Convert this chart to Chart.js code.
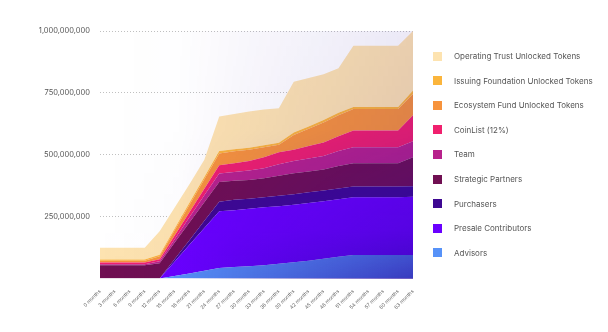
<!DOCTYPE html>
<html>
<head>
<meta charset="utf-8">
<script src="https://cdn.jsdelivr.net/npm/chart.js@4.4.1/dist/chart.umd.min.js"></script>
<style>
    html, body { margin: 0; padding: 0; background: #fff; }
    #wrap { position: relative; width: 608px; height: 332px; }
    #legend { position: absolute; left: 433px; top: 0; font-family: Inter, "Noto Sans", sans-serif; font-size: 8px; color: #555; }
    .item { position: absolute; left: 0; white-space: nowrap; height: 10px; line-height: 10px; }
    .box { position: absolute; left: 0; top: 0.5px; width: 9px; height: 9px; }
    .txt { position: absolute; left: 21px; top: 0; }
</style>
</head>
<body>
<div id="wrap">
    <canvas id="tokenChart" width="608" height="332"></canvas>
    <div id="legend"></div>
</div>
<script>
// x axis
const months = [0, 3, 6, 9, 12, 15, 18, 21, 24, 27, 30, 33, 36, 39, 42, 45, 48, 51, 54, 57, 60, 63]
const labels = months.map(m => `${m} months`)
// unlocked tokens per group, in millions (stacked bottom -> top)
const advisors = [0, 0, 0, 0, 0, 10, 20, 31, 42, 46, 50, 54, 60, 66, 72, 80, 88, 95, 95, 95, 95, 95]
const presale = [0, 0, 0, 0, 0, 58, 116, 173, 230, 230, 232, 234, 232, 232, 233, 232, 232, 233, 233, 233, 233, 235]
const purchasers = [0, 0, 0, 0, 0, 10, 19, 29, 38, 42, 40, 40, 42, 42, 43, 44, 44, 44, 44, 44, 44, 43]
const strategic = [54, 54, 54, 54, 62, 66, 71, 75, 80, 77, 76, 77, 81, 85, 84, 84, 91, 94, 94, 94, 94, 117]
const team = [4, 4, 4, 4, 8, 14, 21, 28, 34, 35, 38, 40, 47, 50, 53, 55, 60, 64, 64, 64, 64, 65]
const coinlist = [7, 7, 7, 7, 8, 15, 21, 27, 34, 36, 39, 45, 48, 45, 50, 55, 60, 68, 68, 68, 68, 105]
const ecosystem = [7, 7, 7, 7, 12, 21, 29, 38, 47, 48, 45, 40, 30, 60, 70, 80, 85, 87, 87, 87, 87, 85]
const issuing = [5, 5, 5, 5, 6, 7, 9, 9, 10, 8, 8, 8, 8, 10, 9, 10, 10, 8, 8, 8, 8, 15]
const operating = [47, 47, 47, 47, 95, 85, 75, 70, 140, 143, 147, 145, 140, 205, 196, 185, 180, 247, 247, 247, 247, 240]
// y ticks
const yTicks = [0, 250000000, 500000000, 750000000, 1000000000]

const groups = [
    [`Advisors`, advisors, `#5792f8`],
    [`Presale Contributors`, presale, `#6a00ff`],
    [`Purchasers`, purchasers, `#3e0892`],
    [`Strategic Partners`, strategic, `#700f52`],
    [`Team`, team, `#b8228c`],
    [`CoinList (12%)`, coinlist, `#f0206e`],
    [`Ecosystem Fund Unlocked Tokens`, ecosystem, `#f7933c`],
    [`Issuing Foundation Unlocked Tokens`, issuing, `#fbb53c`],
    [`Operating Trust Unlocked Tokens`, operating, `#fde3b0`]
]

const datasets = groups.map((g, i) => ({
    label: g[0],
    data: g[1].map(v => v * 1000000),
    backgroundColor: g[2],
    borderWidth: 0,
    pointRadius: 0,
    tension: 0,
    fill: i === 0 ? `origin` : `-1`
}))

// purple shading over the plot: stronger to the right and near the bottom
const shade = {
    id: `shade`,
    afterDatasetsDraw(chart) {
        const { ctx, chartArea: a } = chart
        const w = Math.round(a.right - a.left)
        const h = Math.round(a.bottom - a.top)
        const off = document.createElement(`canvas`)
        off.width = w
        off.height = h
        const o = off.getContext(`2d`)
        const hg = o.createLinearGradient(0, 0, w, 0)
        hg.addColorStop(0, `rgba(40,10,160,0)`)
        hg.addColorStop(0.25, `rgba(40,10,160,0.03)`)
        hg.addColorStop(0.5, `rgba(40,10,160,0.25)`)
        hg.addColorStop(0.75, `rgba(40,10,160,0.45)`)
        hg.addColorStop(1, `rgba(40,10,160,0.65)`)
        o.fillStyle = hg
        o.fillRect(0, 0, w, h)
        o.globalCompositeOperation = `destination-in`
        const vg = o.createLinearGradient(0, 0, 0, h)
        vg.addColorStop(0, `rgba(0,0,0,0.14)`)
        vg.addColorStop(0.4, `rgba(0,0,0,0.18)`)
        vg.addColorStop(0.8, `rgba(0,0,0,0.46)`)
        vg.addColorStop(1, `rgba(0,0,0,1)`)
        o.fillStyle = vg
        o.fillRect(0, 0, w, h)
        ctx.drawImage(off, a.left, a.top)
    }
}

new Chart(`tokenChart`, {
    type: `line`,
    data: { labels: labels, datasets: datasets },
    plugins: [shade],
    options: {
        responsive: false,
        animation: false,
        layout: { padding: { left: 0, right: 195, top: 31, bottom: 0 } },
        plugins: { legend: { display: false }, tooltip: { enabled: false } },
        scales: {
            x: {
                grid: { display: false },
                border: { display: false },
                ticks: {
                    autoSkip: false,
                    minRotation: 45,
                    maxRotation: 45,
                    padding: 2,
                    color: `#666`,
                    font: { family: `Inter`, size: 5 }
                },
                afterFit: s => { s.height = 53.5 }
            },
            y: {
                stacked: true,
                min: 0,
                max: 1000000000,
                z: 1,
                afterBuildTicks: s => { s.ticks = yTicks.map(v => ({ value: v })) },
                grid: {
                    color: c => c.tick.value === 0 ? `rgba(0,0,0,0)` : `rgba(150,150,150,0.6)`,
                    drawTicks: false
                },
                border: { display: false, dash: [1, 2] },
                ticks: {
                    padding: 10,
                    color: `#555`,
                    font: { family: `Inter`, size: 7.5 },
                    callback: v => v === 0 ? `` : v.toLocaleString(`en-US`)
                },
                afterFit: s => { s.width = 100 }
            }
        }
    }
})

// legend on the right, top group first
const legend = document.getElementById(`legend`)
groups.slice().reverse().forEach((g, i) => {
    const item = document.createElement(`div`)
    item.className = `item`
    item.style.top = `${51 + i * 24.6}px`
    item.innerHTML = `<span class="box" style="background:${g[2]}"></span><span class="txt">${g[0]}</span>`
    legend.appendChild(item)
})
</script>
</body>
</html>
